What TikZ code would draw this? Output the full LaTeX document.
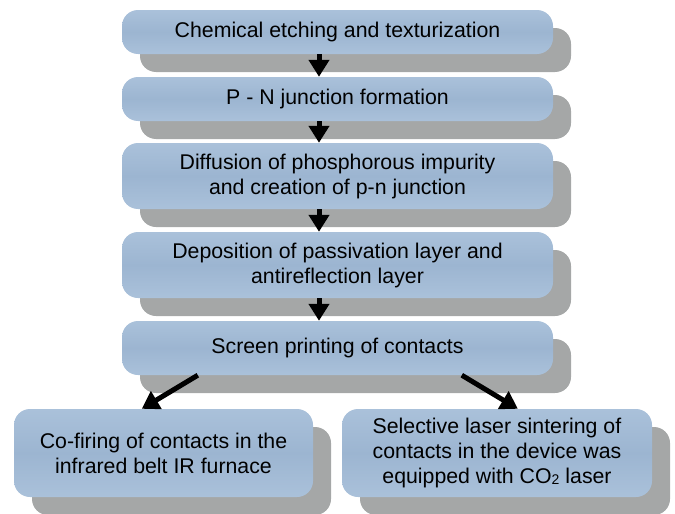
\documentclass[tikz,border=0pt]{standalone}
\usepackage{fontspec}
\setmainfont{Liberation Sans}
\usetikzlibrary{arrows.meta,shadows,calc}
\definecolor{boxblue}{RGB}{156,181,209}
\definecolor{boxlight}{RGB}{170,193,218}
\definecolor{shadowgray}{RGB}{165,167,167}
\tikzset{
  stepbox/.style={rectangle, rounded corners=16pt, inner sep=0pt, align=center,
    top color=boxlight, bottom color=boxlight, middle color=boxblue,
    font=\fontsize{21.3}{25}\selectfont, text=black,
    general shadow={fill=shadowgray, shadow xshift=18pt, shadow yshift=-18pt}},
  flow/.style={line width=5pt, -{Triangle[width=20pt,length=17pt]}, black}
}
\begin{document}
\begin{tikzpicture}[x=1pt,y=-1pt]
\useasboundingbox (0,0) rectangle (675,514);
\node[stepbox, minimum width=431pt, minimum height=44pt] (b1) at (337.5,32) {Chemical etching and texturization};
\node[stepbox, minimum width=431pt, minimum height=44pt] (b2) at (337.5,99) {P - N junction formation};
\node[stepbox, minimum width=431pt, minimum height=66pt] (b3) at (337.5,176) {Diffusion of phosphorous impurity\\and creation of p-n junction};
\node[stepbox, minimum width=431pt, minimum height=66pt] (b4) at (337.5,265) {Deposition of passivation layer and\\antireflection layer};
\node[stepbox, minimum width=431pt, minimum height=54pt] (b5) at (337.5,348) {Screen printing of contacts};
\node[stepbox, minimum width=299pt, minimum height=88pt] (b6) at (163.5,453) {Co-firing of contacts in the\\infrared belt IR furnace};
\node[stepbox, minimum width=310pt, minimum height=88pt] (b7) at (497,453) {Selective laser sintering of\\contacts in the device was\\equipped with CO\raisebox{-1pt}{\fontsize{14}{14}\selectfont 2} laser};
\coordinate (ax) at (319,0);
\draw[flow] (b1.south -| ax) -- (b2.north -| ax);
\draw[flow] (b2.south -| ax) -- (b3.north -| ax);
\draw[flow] (b3.south -| ax) -- (b4.north -| ax);
\draw[flow] (b4.south -| ax) -- (b5.north -| ax);
\draw[flow] ($(b5.south west)+(76,0)$) -- ($(b6.north west)+(128,0)$);
\draw[flow] ($(b5.south west)+(340,0)$) -- ($(b7.north west)+(176,0)$);
\end{tikzpicture}
\end{document}
